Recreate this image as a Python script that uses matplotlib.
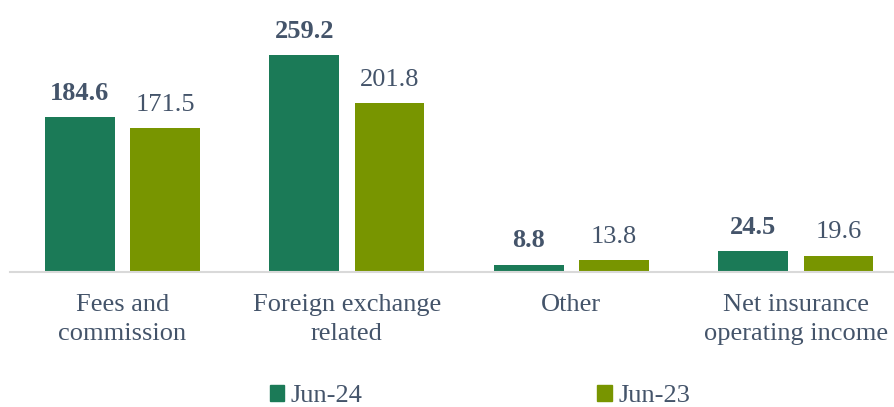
import numpy as np
import matplotlib.pyplot as plt
from matplotlib.patches import Patch

categories = ['Fees and\ncommission', 'Foreign exchange\nrelated', 'Other', 'Net insurance\noperating income']
jun24 = [184.6, 259.2, 8.8, 24.5]
jun23 = [171.5, 201.8, 13.8, 19.6]

dark_green = '#1b7a57'
olive = '#789500'
text_col = '#44546a'

plt.rcParams['font.family'] = ['Liberation Serif', 'DejaVu Serif']

fig = plt.figure(figsize=(8.94, 4.07), dpi=100)
ax = fig.add_axes([10 / 894, 135 / 407, 884 / 894, 272 / 407])

x = np.arange(len(categories))
w = 0.31
off = 0.19
b1 = ax.bar(x - off, jun24, w, color=dark_green)
b2 = ax.bar(x + off, jun23, w, color=olive)

for rect, v in zip(b1, jun24):
    ax.annotate(f'{v:.1f}', (rect.get_x() + rect.get_width() / 2, v),
                xytext=(0, 9), textcoords='offset points', ha='center', va='bottom',
                fontsize=19, fontweight='bold', color=text_col)
for rect, v in zip(b2, jun23):
    ax.annotate(f'{v:.1f}', (rect.get_x() + rect.get_width() / 2, v),
                xytext=(0, 9), textcoords='offset points', ha='center', va='bottom',
                fontsize=19, color=text_col)

ax.set_xlim(-0.501, 3.437)
ax.set_ylim(0, 272 / 0.837)
ax.set_xticks(x)
ax.set_xticklabels(categories, fontsize=19, color=text_col, linespacing=1.42)
ax.tick_params(axis='x', length=0, pad=16)
ax.set_yticks([])
for s in ['top', 'right', 'left']:
    ax.spines[s].set_visible(False)
ax.spines['bottom'].set_color('#d9d9d9')
ax.spines['bottom'].set_linewidth(1.5)

handles = [Patch(color=dark_green, label='Jun-24'), Patch(color=olive, label='Jun-23')]
fig.legend(handles=handles, loc='center', bbox_to_anchor=(480 / 894, 1 - 396 / 407),
           ncol=2, frameon=False, fontsize=19, labelcolor=text_col,
           handlelength=0.55, handleheight=0.55, handletextpad=0.25, columnspacing=8.9)

fig.savefig('out.png', dpi=100)
